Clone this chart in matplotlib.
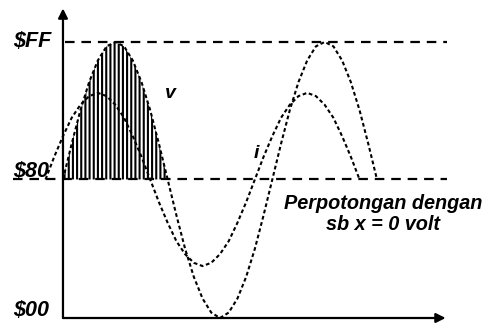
import matplotlib
matplotlib.use("Agg")
import matplotlib.pyplot as plt

# phase angle of v (degrees) and sampled levels in $00..$FF units
v_deg = list(range(0, 541, 15))
v_val = [128, 161, 192, 218, 238, 251, 255, 251, 238, 218, 192, 161,
         128, 95, 64, 38, 18, 5, 0, 5, 18, 38, 64, 95,
         128, 161, 192, 218, 238, 251, 255, 251, 238, 218, 192, 161, 128]

i_deg = list(range(-30, 511, 15))
i_val = [128, 149, 168, 185, 197, 205, 208, 205, 197, 185, 168, 149,
         128, 107, 88, 71, 59, 51, 48, 51, 59, 71, 88, 107,
         128, 149, 168, 185, 197, 205, 208, 205, 197, 185, 168, 149, 128]

levels = [0, 128, 255]
level_labels = [r"\$00", r"\$80", r"\$FF"]
label_shift = [7, 7, 0]

plt.rcParams['hatch.linewidth'] = 1.5
font = dict(family="Liberation Sans", weight="bold", style="italic")

fig = plt.figure(figsize=(4.93, 3.25), dpi=100)
ax = fig.add_axes([0, 0, 1, 1])
ax.set_xlim(-108.3, 739.5)
ax.set_ylim(-6.47, 293.8)
ax.axis("off")

# axes with arrows
ax.annotate("", xy=(0, 286), xytext=(0, 0),
            arrowprops=dict(arrowstyle="-|>", lw=1.6, color="black",
                            mutation_scale=14, shrinkA=0, shrinkB=0))
ax.annotate("", xy=(658, 0), xytext=(0, 0),
            arrowprops=dict(arrowstyle="-|>", lw=1.6, color="black",
                            mutation_scale=14, shrinkA=0, shrinkB=0))

# reference levels
ax.plot([3, 660], [255, 255], color="black", lw=1.6, linestyle=(0, (4.3, 3.1)))
ax.plot([-86, 660], [128, 128], color="black", lw=1.6, linestyle=(0, (4.3, 3.1)))

# hatched first half cycle of v
ax.fill_between(v_deg[:13], 128, v_val[:13], hatch="||||",
                facecolor="none", edgecolor="black", linewidth=0)

# waveforms
ax.plot(v_deg, v_val, color="black", lw=1.5, linestyle=(0, (1.8, 1.3)))
ax.plot(i_deg, i_val, color="black", lw=1.5, linestyle=(0, (1.8, 1.3)))

# labels
for lv, lab, dy in zip(levels, level_labels, label_shift):
    ax.text(-86, lv + dy, lab, fontsize=15.5,
            ha="left", va="center", **font)

ax.text(184, 207, "v", fontsize=14, ha="center", va="center", **font)
ax.text(332, 152, "i", fontsize=14, ha="center", va="center", **font)
ax.text(550, 96, "Perpotongan dengan\nsb x = 0 volt", fontsize=14.3,
        ha="center", va="center", linespacing=1.1, **font)

plt.savefig("out.png", dpi=100)
